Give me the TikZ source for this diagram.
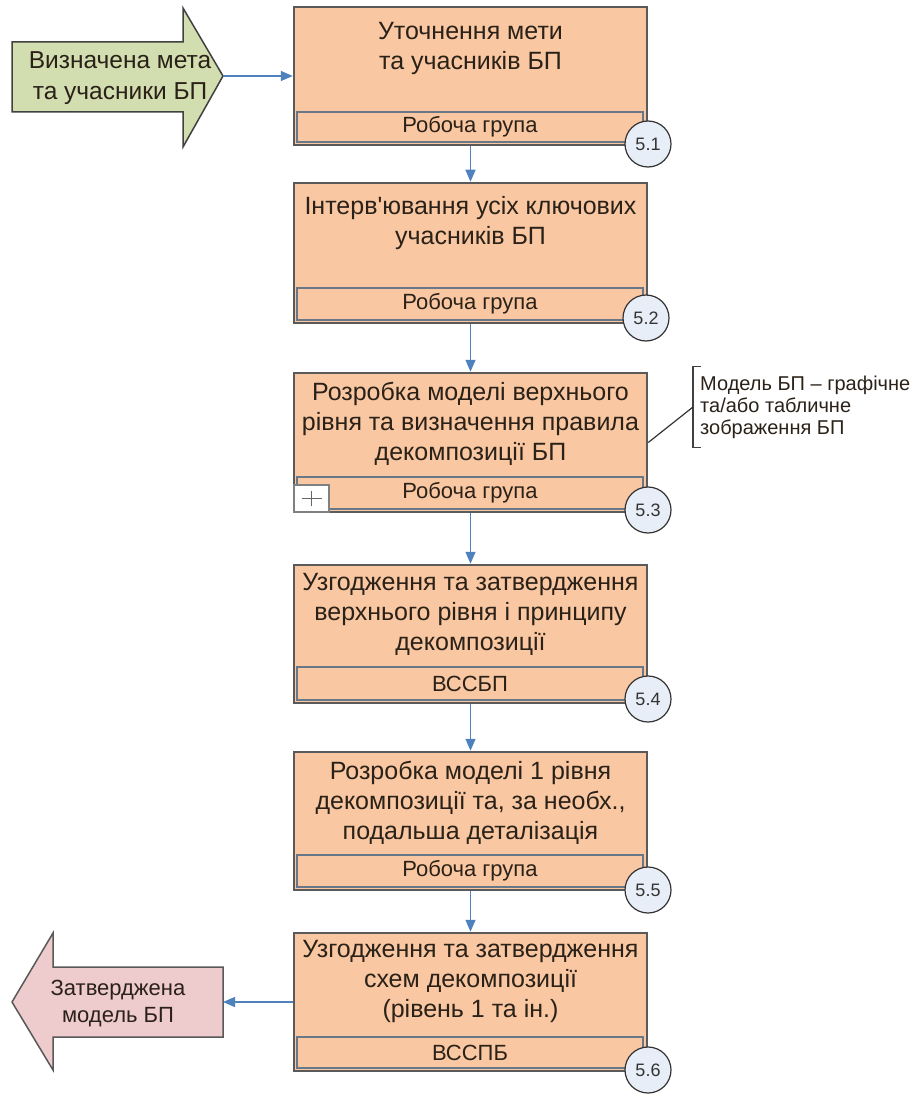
\documentclass[tikz,border=0pt]{standalone}
\usepackage{fontspec}
\setmainfont{Liberation Sans}
\usetikzlibrary{arrows.meta}
\definecolor{peach}{HTML}{F9C7A1}
\definecolor{boxline}{HTML}{5A5A5A}
\definecolor{subline}{HTML}{687888}
\definecolor{circfill}{HTML}{E8EEF7}
\definecolor{conn}{HTML}{4F81BD}
\definecolor{greenfill}{HTML}{D3DEB0}
\definecolor{redfill}{HTML}{EECBCC}
\definecolor{txt}{HTML}{2A2118}
\newcommand\procstep[8]{%
  \pgfmathsetmacro\pcy{(#2+#4)/2}%
  \pgfmathsetmacro\ph{#4-#2}%
  \pgfmathsetmacro\sy{(#3+#4-3)/2}%
  \pgfmathsetmacro\sh{#4-3-#3}%
  \node[procbox, minimum height=\ph] (#1) at (470.5,\pcy) {};
  \node[subbox, minimum height=\sh] (#1s) at (470,\sy) {#6};
  \node[maintext] (#1t) at (470.5,#2+#8) {\strut #5};
}
\begin{document}
\begin{tikzpicture}[x=1pt,y=-1pt,
  procbox/.style={draw=boxline, line width=2.5pt, fill=peach, minimum width=353, inner sep=0},
  subbox/.style={draw=subline, line width=1.3pt, fill=peach, minimum width=346, inner sep=0,
    font=\fontsize{22}{24}\selectfont, text=txt},
  maintext/.style={anchor=north, align=center, inner sep=0, font=\fontsize{25}{30}\selectfont, text=txt},
  numcirc/.style={circle, draw=black!80, line width=1.2pt, fill=circfill, minimum size=46, inner sep=0,
    font=\fontsize{18}{20}\selectfont, text=black!80},
  flow/.style={draw=conn, line width=1.4pt, -{Triangle[length=12pt,width=10pt]}},
  bigarrow/.style={line width=1.5pt, draw=black!75},
  arrowtext/.style={align=center, inner sep=0, text=txt},
  plusbox/.style={draw=black!50, line width=1.2pt, fill=white, minimum width=35, minimum height=27, inner sep=0},
]
\useasboundingbox (0,0) rectangle (916,1094);

% process steps
\procstep{b1}{7}{112}{145}{Уточнення мети\\та учасників БП}{Робоча група}{5.1}{11}
\procstep{b2}{183}{288}{323}{Інтерв\textquotesingle ювання усіх ключових\\учасників БП}{Робоча група}{5.2}{10}
\procstep{b3}{373}{477}{512}{Розробка моделі верхнього\\рівня та визначення правила\\декомпозиції БП}{Робоча група}{5.3}{6}
\procstep{b4}{565}{667}{703}{Узгодження та затвердження\\верхнього рівня і принципу\\декомпозиції}{ВССБП}{5.4}{4}
\procstep{b5}{752}{855}{890}{Розробка моделі 1 рівня\\декомпозиції та, за необх.,\\подальша деталізація}{Робоча група}{5.5}{6}
\procstep{b6}{933}{1037}{1071}{Узгодження та затвердження\\схем декомпозиції\\(рівень 1 та ін.)}{ВССПБ}{5.6}{3}

% plus marker in step 5.3
\node[plusbox] (p3) at (311.5,498.5) {};
\draw[black!60, line width=1pt] ([xshift=-10pt]p3.center) -- ([xshift=10pt]p3.center);
\draw[black!60, line width=1pt] ([yshift=-7.5pt]p3.center) -- ([yshift=7.5pt]p3.center);

% number circles
\node[numcirc] (n1) at (648,144) {5.1};
\node[numcirc] (n2) at (646,318) {5.2};
\node[numcirc] (n3) at (648,510) {5.3};
\node[numcirc] (n4) at (648,699) {5.4};
\node[numcirc] (n5) at (648,890) {5.5};
\node[numcirc] (n6) at (648,1070) {5.6};

% input arrow
\draw[bigarrow, fill=greenfill] (12,42) -- (183,42) -- (183,8) -- (223,76) -- (183,147) -- (183,112) -- (12,112) -- cycle;
\coordinate (gtip) at (223,76);
\node[arrowtext, font=\fontsize{24.5}{31}\selectfont] (gin) at (120,78) {Визначена мета\\та учасники БП};

% output arrow
\draw[bigarrow, draw=black!65, fill=redfill] (223,967) -- (53,967) -- (53,933) -- (12,1002) -- (53,1070) -- (53,1037) -- (223,1037) -- cycle;
\coordinate (rtail) at (223,1002);
\node[arrowtext, font=\fontsize{22}{27}\selectfont] (rout) at (118,1004) {Затверджена\\модель БП};

% connectors
\draw[flow] (gtip) -- (gtip -| b1.west);
\draw[flow] (b1.south) -- (b2.north);
\draw[flow] (b2.south) -- (b3.north);
\draw[flow] (b3.south) -- (b4.north);
\draw[flow] (b4.south) -- (b5.north);
\draw[flow] (b5.south) -- (b6.north);
\draw[flow] (b6.west) -- (rtail);

% annotation
\node[anchor=west, inner xsep=7pt, inner ysep=0, minimum height=80, align=left,
  font=\fontsize{20}{22}\selectfont, text=txt] (ann) at (693,407)
  {Модель БП – графічне\\та/або табличне\\зображення БП};
\draw[black!75, line width=1.2pt] ([xshift=8pt]ann.north west) -- (ann.north west) -- (ann.south west) -- ([xshift=8pt]ann.south west);
\draw[black!80, line width=1.2pt] (b3.east) -- (ann.west);
\end{tikzpicture}
\end{document}
